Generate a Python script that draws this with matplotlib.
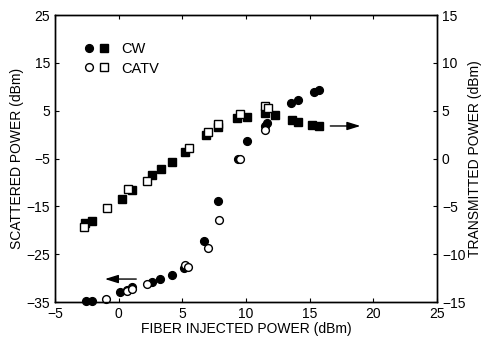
import matplotlib.pyplot as plt
from matplotlib.legend_handler import HandlerTuple
from matplotlib.lines import Line2D

plt.rcParams['font.family'] = ['Liberation Sans', 'DejaVu Sans']

# Scattered power (left axis, dBm)
cw_scat_x = [-2.56, -2.1, 0.1, 0.63, 1.03, 2.6, 3.25, 4.17, 5.13, 6.73, 7.83,
             9.4, 10.06, 11.5, 11.65, 13.5, 14.1, 15.3, 15.76]
cw_scat_y = [-34.8, -34.8, -32.9, -32.4, -31.8, -30.75, -30.2, -29.3, -27.8,
             -22.2, -13.9, -5.0, -1.3, 1.8, 2.4, 6.7, 7.2, 8.8, 9.3]
catv_scat_x = [-1.03, 0.63, 1.03, 2.25, 5.2, 5.47, 7.0, 7.88, 9.53, 11.5]
catv_scat_y = [-34.4, -32.7, -32.2, -31.2, -27.3, -27.7, -23.7, -17.9, -5.0, 0.9]

# Transmitted power (right axis, dBm)
cw_trans_x = [-2.64, -2.07, 0.24, 1.03, 2.6, 3.3, 4.17, 5.2, 6.84, 7.83, 9.32,
              10.06, 11.5, 12.3, 13.6, 14.1, 15.17, 15.7]
cw_trans_y = [-6.79, -6.5, -4.25, -3.3, -1.75, -1.1, -0.35, 0.7, 2.45, 3.3, 4.2,
              4.3, 4.8, 4.55, 4.0, 3.85, 3.5, 3.4]
catv_trans_x = [-2.72, -0.94, 0.76, 2.25, 5.55, 7.04, 7.83, 9.53, 11.5, 11.73]
catv_trans_y = [-7.2, -5.15, -3.15, -2.35, 1.1, 2.75, 3.6, 4.7, 5.5, 5.25]

fig = plt.figure(figsize=(4.84, 3.45), dpi=100)
ax = fig.add_axes([0.1136, 0.1246, 0.7894, 0.8319])
ax2 = ax.twinx()

ms = 5.6
ax.plot(cw_scat_x, cw_scat_y, 'o', color='black', ms=ms, clip_on=False, zorder=3)
ax.plot(catv_scat_x, catv_scat_y, 'o', mfc='white', mec='black', mew=1.0, ms=ms,
        clip_on=False, zorder=4)
ax2.plot(cw_trans_x, cw_trans_y, 's', color='black', ms=ms, zorder=3)
ax2.plot(catv_trans_x, catv_trans_y, 's', mfc='white', mec='black', mew=1.0, ms=ms,
         zorder=4)

# direction arrows
ax.annotate('', xy=(-1.3, -30.2), xytext=(1.6, -30.2),
            arrowprops=dict(arrowstyle='-|>,head_length=0.8,head_width=0.25',
                            color='black', lw=1.0, mutation_scale=10))
ax2.annotate('', xy=(19.2, 3.4), xytext=(16.4, 3.4),
             arrowprops=dict(arrowstyle='-|>,head_length=0.8,head_width=0.25',
                             color='black', lw=1.0, mutation_scale=10))

ax.set_xlim(-5, 25)
ax.set_ylim(-35, 25)
ax2.set_ylim(-15, 15)
ax.set_xticks(range(-5, 26, 5))
ax.set_yticks(range(-35, 26, 10))
ax2.set_yticks(range(-15, 16, 5))

ax.tick_params(direction='in', top=True, labelsize=10, length=3, width=0.8)
ax2.tick_params(direction='in', labelsize=10, length=3, width=0.8)
for a in (ax, ax2):
    for s in a.spines.values():
        s.set_linewidth(1.0)

ax.set_xlabel('FIBER INJECTED POWER (dBm)', fontsize=10, labelpad=1)
ax.set_ylabel('SCATTERED POWER (dBm)', fontsize=10, labelpad=2)
ax2.set_ylabel('TRANSMITTED POWER (dBm)', fontsize=10, labelpad=2)

h_cw = (Line2D([], [], marker='o', ls='', color='black', ms=ms),
        Line2D([], [], marker='s', ls='', color='black', ms=ms))
h_catv = (Line2D([], [], marker='o', ls='', mfc='white', mec='black', ms=ms),
          Line2D([], [], marker='s', ls='', mfc='white', mec='black', ms=ms))
ax.legend([h_cw, h_catv], ['CW', 'CATV'], handler_map={tuple: HandlerTuple(ndivide=None, pad=0.3)},
          loc='upper left', bbox_to_anchor=(0.04, 0.95), frameon=False, fontsize=10.5,
          handlelength=1.8, handletextpad=0.8, labelspacing=0.35)

fig.savefig('out.png', dpi=100)
